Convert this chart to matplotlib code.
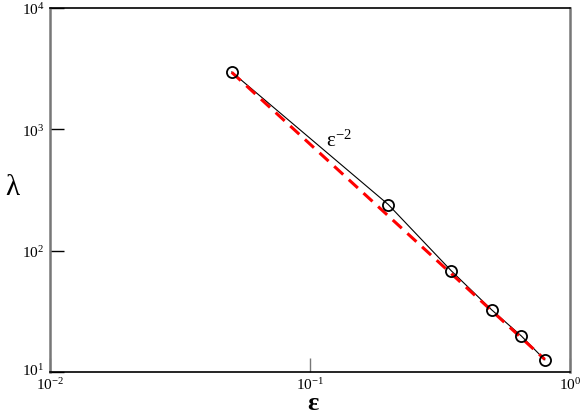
import matplotlib
matplotlib.use("Agg")
import matplotlib.pyplot as plt
import matplotlib.transforms as mtransforms

plt.rcParams['font.family'] = ['Liberation Serif', 'DejaVu Serif']
plt.rcParams['mathtext.fontset'] = 'custom'
plt.rcParams['mathtext.rm'] = 'Liberation Serif'
plt.rcParams['mathtext.it'] = 'Liberation Serif'
plt.rcParams['mathtext.bf'] = 'Liberation Serif:bold'

# data
eps = [0.05, 0.2, 0.35, 0.5, 0.65, 0.8]
lam = [2970, 240, 68, 32.5, 19.8, 12.6]

# eps^-2 reference line (end points)
fit_x = [0.05, 0.8]
fit_y = [2950, 12.7]

fig = plt.figure(figsize=(5.81, 4.14), dpi=100)
ax = fig.add_axes([50/581, 41/414, 520/581, 364/414])

ax.plot(eps, lam, color='black', lw=0.8, zorder=2)
ax.plot(eps, lam, 'o', mfc='none', mec='black', ms=8, mew=1.3, zorder=3)
ax.plot(fit_x, fit_y, '--', color='red', lw=2.2, dashes=(4, 2.5), zorder=2.5)

ax.set_xscale('log')
ax.set_yscale('log')
ax.set_xlim(1e-2, 1)
ax.set_ylim(1e1, 1e4)

ax.xaxis.set_minor_locator(matplotlib.ticker.NullLocator())
ax.yaxis.set_minor_locator(matplotlib.ticker.NullLocator())
ax.set_xticks([1e-2, 1e-1, 1])
ax.set_xticklabels([r'$10^{-2}$', r'$10^{-1}$', r'$10^{0}$'])
ax.set_yticks([1e1, 1e2, 1e3, 1e4])
ax.set_yticklabels([r'$10^{1}$', r'$10^{2}$', r'$10^{3}$', r'$10^{4}$'])
ax.tick_params(direction='in', length=10, width=1, labelsize=11, pad=4)
ax.tick_params(axis='x', colors='#777777', labelcolor='black', pad=3)

# the two corner labels sit close together, nudge them apart a little
lbl = ax.get_yticklabels()[0]
lbl.set_transform(lbl.get_transform() + mtransforms.ScaledTranslation(0, 3/100, fig.dpi_scale_trans))

for s in ['left', 'right']:
    ax.spines[s].set_color('#777777')
    ax.spines[s].set_linewidth(1.8)
for s in ['top', 'bottom']:
    ax.spines[s].set_color('black')
    ax.spines[s].set_linewidth(1.2)

ax.set_xlabel('\u03b5', fontsize=19, fontweight='bold')
ax.set_ylabel('\u03bb', fontsize=21, rotation=0)
ax.xaxis.set_label_coords((313 - 50) / 520, -(404 - 373) / 364)
ax.yaxis.set_label_coords(-0.073, (373 - 188) / 364)
ax.xaxis.label.set_va('center')
ax.yaxis.label.set_va('center')
ax.yaxis.label.set_ha('center')

ax.text(0.1153, 730, r'$\varepsilon^{-2}$', fontsize=15, va='baseline')

fig.savefig('out.png', dpi=100)
